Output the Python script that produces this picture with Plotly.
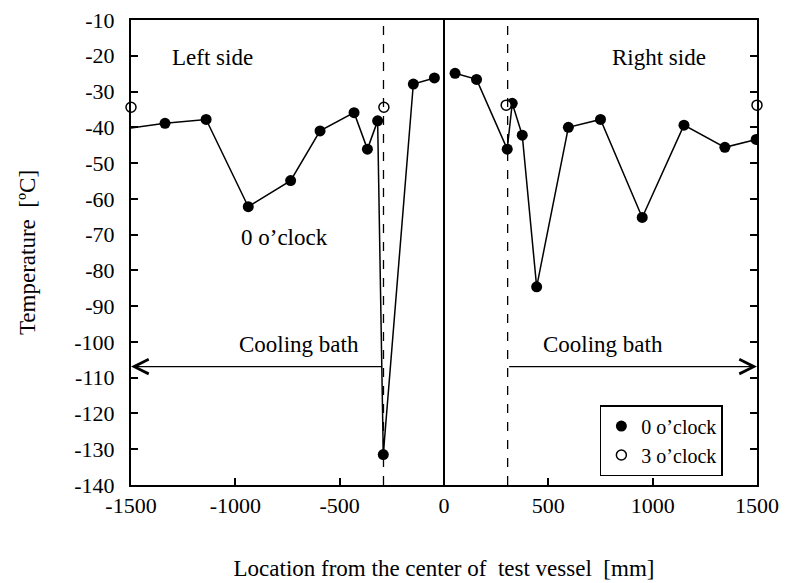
import plotly.graph_objects as go

# 0 o'clock (filled) - left side
left_x = [-1600, -1337, -1140, -938, -735, -594, -431, -367, -318, -291, -147, -46]
left_t = [-41.0, -38.9, -37.8, -62.2, -54.9, -41.0, -35.9, -46.1, -38.2, -131.5, -27.9, -26.2]
# 0 o'clock (filled) - right side
right_x = [53, 156, 303, 327, 375, 444, 596, 750, 950, 1150, 1346, 1496]
right_t = [-24.9, -26.6, -46.1, -33.3, -42.2, -84.6, -40.0, -37.8, -65.2, -39.4, -45.6, -43.4]
# 3 o'clock (open)
open_x = [-1500, -288, 298, 1500]
open_t = [-34.4, -34.4, -33.8, -33.8]

x_ticks = [-1500, -1000, -500, 0, 500, 1000, 1500]
y_ticks = list(range(-140, 0, 10))

FONT = 'Liberation Serif'
FS = 22
TS = 23

fig = go.Figure()

for xs, ys in [(left_x, left_t), (right_x, right_t)]:
    fig.add_trace(go.Scatter(
        x=xs, y=ys, mode='lines+markers', showlegend=False,
        line=dict(color='black', width=1.5),
        marker=dict(size=11, color='black'), cliponaxis=xs is right_x))

# 凡例用（マーカーのみ）
fig.add_trace(go.Scatter(x=[None], y=[None], mode='markers', name="0 o\u2019clock",
                         marker=dict(size=11, color='black')))
fig.add_trace(go.Scatter(
    x=open_x, y=open_t, mode='markers', name="3 o\u2019clock",
    marker=dict(size=10, color='white', line=dict(color='black', width=1.5)),
    cliponaxis=False))

# 容器中心線と浴槽境界
fig.add_shape(type='line', x0=0, x1=0, y0=-140, y1=-10, line=dict(color='black', width=2))
for xv in [-290, 305]:
    fig.add_shape(type='line', x0=xv, x1=xv, y0=-140, y1=-10,
                  line=dict(color='black', width=1.3, dash='dash'))

# Cooling bath arrows
arrows = [(-1500, -290), (1500, 305)]
for head, tail in arrows:
    fig.add_annotation(x=head, y=-106.9, ax=tail, ay=-106.9, xref='x', yref='y', axref='x', ayref='y',
                       text='', showarrow=True, arrowhead=5, arrowsize=2.6, arrowwidth=1.1,
                       arrowcolor='black', standoff=0, startstandoff=0)

texts = [(-1110, -20.6, 'Left side'), (1032, -20.6, 'Right side'), (-765, -70.7, "0 o\u2019clock"),
         (-693, -100.6, 'Cooling bath'), (763, -100.6, 'Cooling bath')]
for tx, ty, s in texts:
    fig.add_annotation(x=tx, y=ty, text=s, showarrow=False, xref='x', yref='y',
                       font=dict(family=FONT, size=TS, color='black'))

fig.update_xaxes(range=[-1500, 1500], tickvals=x_ticks, ticktext=[str(v) for v in x_ticks],
                 ticks='inside', ticklen=7, automargin=False, ticklabeloverflow='allow',
                 tickwidth=2, tickcolor='black', showline=True, linecolor='black', linewidth=2,
                 mirror=True, showgrid=False, zeroline=False,
                 tickfont=dict(family=FONT, size=FS, color='black'),
                 title=dict(text='Location from the center of  test vessel  [mm]',
                            font=dict(family=FONT, size=TS, color='black'), standoff=42))
fig.update_yaxes(range=[-140, -10], tickvals=y_ticks, ticktext=[str(v) for v in y_ticks],
                 ticks='inside', ticklen=7, ticklabelstandoff=10, automargin=False,
                 ticklabeloverflow='allow',
                 tickwidth=2, tickcolor='black', showline=True, linecolor='black', linewidth=2,
                 mirror='ticks', showgrid=False, zeroline=False,
                 tickfont=dict(family=FONT, size=FS, color='black'),
                 title=dict(text='Temperature  [\u00baC]',
                            font=dict(family=FONT, size=TS, color='black'), standoff=32))

# ページ余白(8px)を考慮したサイズ
fig.update_layout(
    width=780, height=575, plot_bgcolor='white', paper_bgcolor='white',
    margin=dict(l=123, r=31, t=12, b=98),
    legend=dict(x=0.749, y=0.172, xanchor='left', yanchor='top',
                bordercolor='black', borderwidth=1.5, bgcolor='white',
                font=dict(family=FONT, size=20, color='black'),
                itemwidth=30, tracegroupgap=0),
)

fig.write_html('out.html')
